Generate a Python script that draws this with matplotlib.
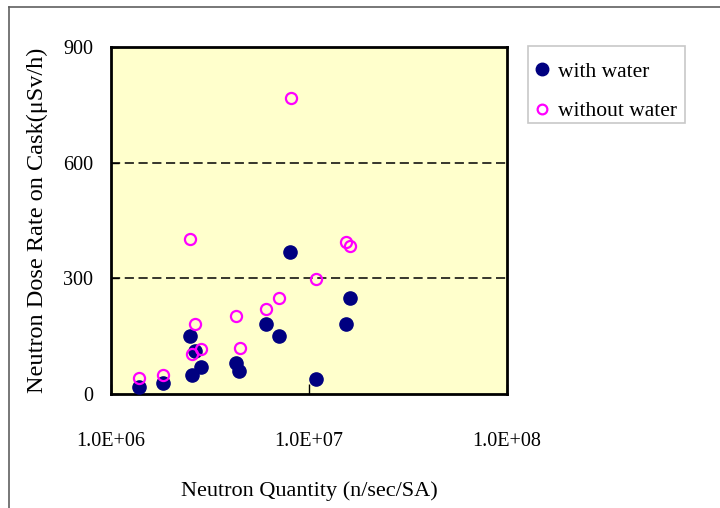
import matplotlib
matplotlib.use("Agg")
import matplotlib.pyplot as plt
from matplotlib.lines import Line2D
from matplotlib.patches import Rectangle

plt.rcParams['font.family'] = ['Liberation Serif', 'DejaVu Serif']

# Neutron quantity (n/sec/SA)
x_with = [1.38e6, 1.84e6, 2.52e6, 2.65e6, 2.57e6, 2.86e6, 4.27e6, 4.43e6,
          6.08e6, 7.02e6, 8.03e6, 1.087e7, 1.53e7, 1.61e7]
y_with = [17, 28, 150, 111, 49, 71, 81, 60, 181, 150, 369, 40, 181, 250]

x_without = [1.38e6, 1.84e6, 2.52e6, 2.65e6, 2.57e6, 2.86e6, 4.27e6, 4.47e6,
             6.08e6, 7.02e6, 8.07e6, 1.087e7, 1.53e7, 1.61e7]
y_without = [41, 49, 401, 181, 103, 116, 202, 120, 220, 250, 769, 299, 393, 384]

y_ticks = [0, 300, 600, 900]
x_ticks = [1e6, 1e7, 1e8]
x_tick_labels = ["1.0E+06", "1.0E+07", "1.0E+08"]
ref_lines = [300, 600]

fig = plt.figure(figsize=(7.2, 5.08), dpi=100)
ax = fig.add_axes([111/720, 1-394/508, (507-111)/720, (394-47)/508])
ax.set_facecolor('#FFFFCC')

for yv in ref_lines:
    ax.axhline(yv, color='black', lw=1.1, ls=(0, (6, 3)), zorder=1)

ax.plot(x_with, y_with, 'o', ls='none', ms=9.5, color='#000080',
        mec='#000080', zorder=3, label='with water')
ax.plot(x_without, y_without, 'o', ls='none', ms=8, mfc='none',
        mec='#FF00FF', mew=1.6, zorder=4, label='without water')

ax.set_xscale('log')
ax.set_xlim(1e6, 1e8)
ax.set_ylim(0, 900)
ax.set_xticks(x_ticks)
ax.set_xticklabels(x_tick_labels)
ax.xaxis.set_minor_locator(matplotlib.ticker.NullLocator())
ax.set_yticks(y_ticks)
ax.tick_params(axis='x', direction='in', length=7, width=1, pad=27, labelsize=14.5)
ax.tick_params(axis='y', direction='in', length=6, width=1, pad=13, labelsize=14.5)
for s in ax.spines.values():
    s.set_linewidth(2)
    s.set_color('black')

ax.set_xlabel('Neutron Quantity (n/sec/SA)', fontsize=16, labelpad=22)
ax.set_ylabel('Neutron Dose Rate on Cask(μSv/h)', fontsize=17.5, labelpad=11)

handles = [
    Line2D([], [], marker='o', ls='none', ms=9, color='#000080'),
    Line2D([], [], marker='o', ls='none', ms=7, mfc='none', mec='#FF00FF', mew=1.6),
]
leg = fig.legend(handles, ['with water', 'without water'],
                 loc='upper left', bbox_to_anchor=(527/720, 1-53/508),
                 fontsize=15.5, frameon=False,
                 labelspacing=0.9, handlelength=0.6, handletextpad=0.45,
                 borderpad=0.4, borderaxespad=0)
# legend box
fig.add_artist(Rectangle((528/720, 1-123/508), (685-528)/720, (123-46)/508,
                         transform=fig.transFigure, fill=False,
                         edgecolor='#c8c8c8', lw=1.2))

# outer chart frame
fig.add_artist(Line2D([9/720, 9/720], [0, 1-7/508], transform=fig.transFigure,
                      color='#606060', lw=1.2))
fig.add_artist(Line2D([9/720, 1], [1-7/508, 1-7/508], transform=fig.transFigure,
                      color='#606060', lw=1.2))

fig.savefig('out.png', dpi=100)
